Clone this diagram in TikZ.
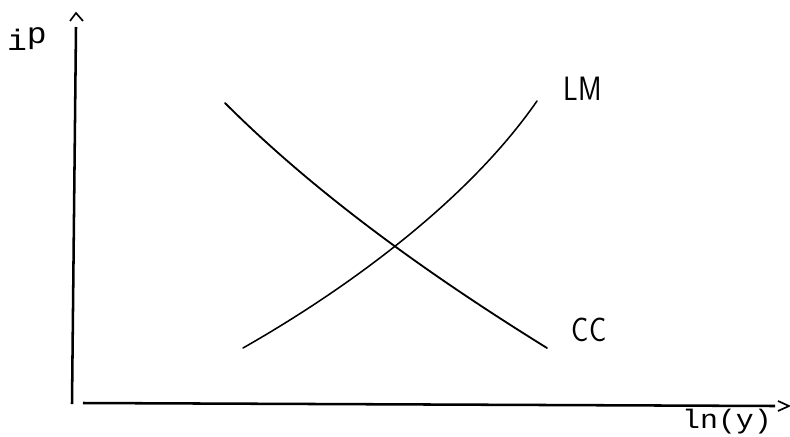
\documentclass[tikz,border=0pt]{standalone}
\usepackage{fontspec}
\newfontfamily\axisfont[FakeStretch=1.12]{Liberation Mono}
\usetikzlibrary{positioning}

\begin{document}
\begin{tikzpicture}[
    x=0.025cm, y=-0.025cm,
    curve/.style={black, line width=1.3pt, line cap=round}, % Style for the LM and CC curves
    axis/.style={black, line width=1.8pt}, % Style for the axes
    tip/.style={black, line width=1.2pt, line join=miter}, % Style for the open arrow heads
    axislabel/.style={font=\axisfont\fontsize{19}{19}\selectfont, inner sep=0pt},
    curvelabel/.style={font=\sffamily\fontsize{24}{24}\selectfont, xscale=0.85, inner sep=0pt}
]
\useasboundingbox (0,0) rectangle (790,436);

% Axes
\coordinate (origin) at (72,404);
\coordinate (ytop) at (76,27);
\coordinate (xstart) at (83,403);
\coordinate (xend) at (775,406);
\draw[axis] (origin) -- (ytop); % vertical axis
\draw[axis] (xstart) -- (xend); % horizontal axis

% Open arrow heads, set apart from the axis lines
\draw[tip] (70,21) -- (76,13) -- (83,21);
\draw[tip] (778,401) -- (789,406) -- (778,411);

% Axis labels
\node[axislabel, font=\axisfont\fontsize{21}{21}\selectfont] (ip) at (27,39) {i\raisebox{0.45ex}{p}};
\node[axislabel] (lny) at (727,422) {ln(y)};

% CC curve (falling)
\coordinate (cctop) at (225,103);
\coordinate (ccend) at (547,348);
\draw[curve] (cctop) .. controls (325,203) and (447,286) .. (ccend);

% LM curve (rising)
\coordinate (lmstart) at (243,348);
\coordinate (lmtop) at (537,101);
\draw[curve, line width=1.1pt] (lmstart) .. controls (345,290) and (467,202) .. (lmtop);

% Curve labels
\node[curvelabel] (lm) at (583,89) {LM};
\node[curvelabel] (cc) at (589,330) {CC};

\end{tikzpicture}
\end{document}
